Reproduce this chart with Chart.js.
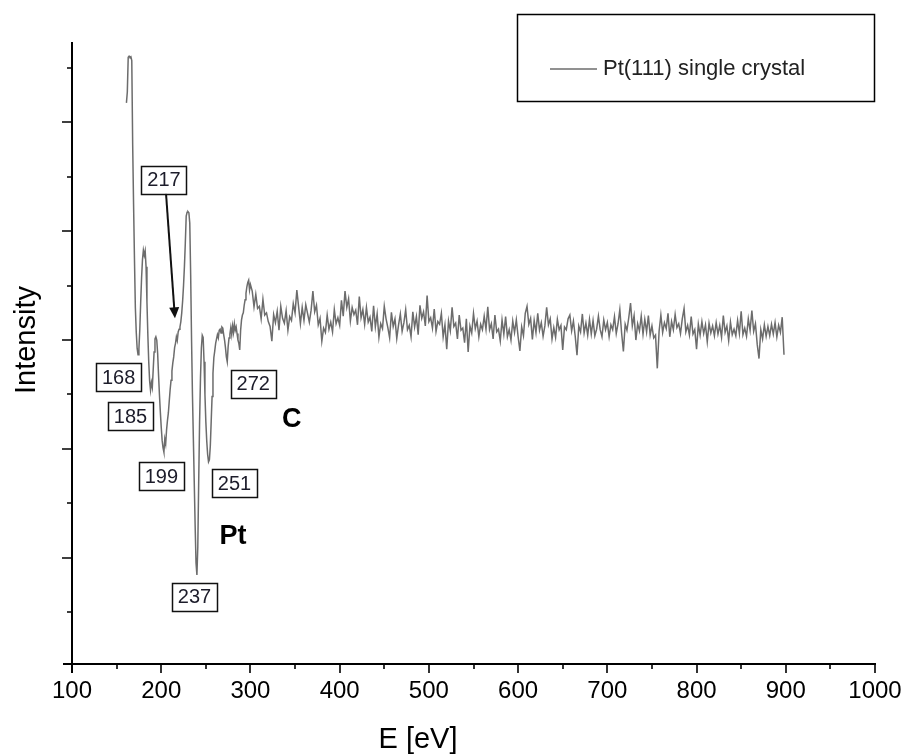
<!DOCTYPE html>
<html>
<head>
<meta charset="utf-8">
<title>Pt(111) AES</title>
<script src="https://cdn.jsdelivr.net/npm/chart.js@4.4.0/dist/chart.umd.min.js"></script>
<style>
    html, body { margin: 0; padding: 0; background: #fff; }
    #chart { display: block; }
</style>
</head>
<body>
<canvas id="chart" width="902" height="754"></canvas>
<script>
// spectrum, fine part (1 eV steps)
const energyLow = [
    161, 162, 163, 164, 165, 166, 167, 168, 169, 170,
    171, 172, 173, 174, 175, 176, 177, 178, 179, 180,
    181, 182, 183, 184, 185, 186, 187, 188, 189, 190,
    191, 192, 193, 194, 195, 196, 197, 198, 199, 200,
    201, 202, 203, 204, 205, 206, 207, 208, 209, 210,
    211, 212, 213, 214, 215, 216, 217, 218, 219, 220,
    221, 222, 223, 224, 225, 226, 227, 228, 229, 230,
    231, 232, 233, 234, 235, 236, 237, 238, 239, 240,
    241, 242, 243, 244, 245, 246, 247, 248, 249, 250,
    251, 252, 253, 254, 255, 256, 257, 258, 259, 260,
    261, 262, 263, 264, 265, 266, 267, 268, 269, 270,
    271, 272, 273, 274, 275, 276, 277, 278, 279, 280,
    281, 282, 283, 284, 285, 286, 287, 288, 289, 290,
    291, 292, 293, 294, 295, 296, 297, 298, 299, 300
];
const intensityLow = [
    103.6, 105.6, 112.0, 112.2, 112.0, 112.1, 111.4, 96.0, 85.0, 75.0,
    66.0, 61.5, 58.5, 57.3, 58.4, 62.0, 67.0, 71.5, 74.8, 76.5,
    75.6, 76.4, 73.5, 67.0, 61.0, 56.0, 52.5, 50.8, 52.2, 51.3,
    54.5, 57.8, 60.2, 60.6, 60.0, 57.5, 53.6, 50.0, 46.8, 44.0,
    41.6, 40.2, 39.4, 41.8, 40.9, 43.5, 45.2, 46.6, 48.8, 50.9,
    52.6, 54.3, 55.8, 56.9, 58.6, 59.4, 60.6, 59.9, 61.5, 62.0,
    62.4, 63.4, 65.0, 67.2, 70.0, 73.5, 77.8, 82.8, 83.5, 83.6,
    83.4, 81.5, 72.0, 60.0, 50.0, 42.0, 34.0, 26.0, 19.0, 16.8,
    22.0, 34.0, 45.0, 53.0, 58.5, 60.9, 60.5, 56.0, 50.0, 45.0,
    41.5, 39.0, 37.6, 38.0, 40.5, 45.0, 49.6, 53.9, 56.8, 58.0,
    59.4, 60.2, 61.0, 60.4, 61.8, 62.0, 61.3, 62.4, 62.2, 61.0,
    60.0, 58.6, 56.9, 56.0, 58.8, 60.4, 61.1, 62.3, 61.0, 62.6,
    61.4, 63.0, 61.8, 62.4, 61.2, 60.0, 59.4, 58.2, 61.8, 63.7,
    64.6, 65.0, 66.4, 67.4, 68.6, 69.8, 70.6, 71.0, 69.2, 70.2
];

// spectrum, noisy tail (2 eV steps)
const energyHigh = [
    302, 304, 306, 308, 310, 312, 314, 316, 318, 320,
    322, 324, 326, 328, 330, 332, 334, 336, 338, 340,
    342, 344, 346, 348, 350, 352, 354, 356, 358, 360,
    362, 364, 366, 368, 370, 372, 374, 376, 378, 380,
    382, 384, 386, 388, 390, 392, 394, 396, 398, 400,
    402, 404, 406, 408, 410, 412, 414, 416, 418, 420,
    422, 424, 426, 428, 430, 432, 434, 436, 438, 440,
    442, 444, 446, 448, 450, 452, 454, 456, 458, 460,
    462, 464, 466, 468, 470, 472, 474, 476, 478, 480,
    482, 484, 486, 488, 490, 492, 494, 496, 498, 500,
    502, 504, 506, 508, 510, 512, 514, 516, 518, 520,
    522, 524, 526, 528, 530, 532, 534, 536, 538, 540,
    542, 544, 546, 548, 550, 552, 554, 556, 558, 560,
    562, 564, 566, 568, 570, 572, 574, 576, 578, 580,
    582, 584, 586, 588, 590, 592, 594, 596, 598, 600,
    602, 604, 606, 608, 610, 612, 614, 616, 618, 620,
    622, 624, 626, 628, 630, 632, 634, 636, 638, 640,
    642, 644, 646, 648, 650, 652, 654, 656, 658, 660,
    662, 664, 666, 668, 670, 672, 674, 676, 678, 680,
    682, 684, 686, 688, 690, 692, 694, 696, 698, 700,
    702, 704, 706, 708, 710, 712, 714, 716, 718, 720,
    722, 724, 726, 728, 730, 732, 734, 736, 738, 740,
    742, 744, 746, 748, 750, 752, 754, 756, 758, 760,
    762, 764, 766, 768, 770, 772, 774, 776, 778, 780,
    782, 784, 786, 788, 790, 792, 794, 796, 798, 800,
    802, 804, 806, 808, 810, 812, 814, 816, 818, 820,
    822, 824, 826, 828, 830, 832, 834, 836, 838, 840,
    842, 844, 846, 848, 850, 852, 854, 856, 858, 860,
    862, 864, 866, 868, 870, 872, 874, 876, 878, 880,
    882, 884, 886, 888, 890, 892, 894, 896, 898
];
const intensityHigh = [
    69.0, 66.1, 68.4, 65.8, 66.2, 63.9, 67.5, 64.6, 65.0, 63.4,
    62.5, 59.8, 64.7, 63.2, 65.3, 61.8, 66.2, 64.0, 63.1, 65.4,
    61.8, 64.3, 63.6, 66.7, 65.0, 69.2, 66.1, 63.0, 66.0, 63.6,
    66.5, 64.9, 63.3, 65.5, 69.0, 65.2, 66.4, 62.8, 64.0, 59.8,
    62.2, 61.4, 64.6, 62.0, 63.3, 61.5, 65.6, 63.0, 64.1, 62.7,
    67.3, 64.4, 69.0, 66.0, 67.6, 63.5, 66.0, 64.7, 65.5, 62.8,
    68.0, 64.1, 65.6, 62.9, 66.0, 63.3, 64.2, 61.6, 66.3, 62.4,
    64.8, 60.5, 63.0, 62.1, 66.2, 63.9, 62.3, 60.4, 65.1, 62.5,
    63.9, 60.3, 62.8, 64.8, 61.6, 63.2, 65.6, 61.9, 62.7, 60.6,
    65.2, 62.4, 64.3, 61.0, 66.4, 64.0, 65.2, 62.6, 68.2, 63.4,
    64.1, 62.2, 65.7, 61.6, 63.4, 62.9, 64.9, 60.6, 62.8, 58.3,
    63.5, 61.7, 66.0, 62.5, 63.1, 60.2, 64.6, 61.8, 62.2, 59.5,
    63.9, 57.8, 62.6, 61.3, 64.9, 62.1, 63.5, 60.6, 62.9, 61.9,
    64.4, 62.0, 66.1, 61.9, 63.0, 60.2, 64.6, 61.5, 62.0, 59.8,
    63.7, 61.1, 64.3, 60.6, 61.9, 60.0, 63.5, 61.4, 63.7, 60.6,
    58.0, 62.4, 60.8, 64.9, 66.2, 62.9, 64.0, 60.1, 63.6, 61.4,
    64.9, 61.8, 63.2, 60.7, 62.6, 66.0, 62.8, 63.9, 60.2, 62.3,
    60.5, 63.8, 61.9, 62.7, 58.2, 62.4, 61.9, 63.9, 64.6, 61.7,
    63.5, 60.7, 57.2, 62.6, 61.5, 64.8, 61.3, 63.1, 60.9, 63.8,
    61.1, 63.6, 60.8, 62.0, 64.4, 61.9, 60.6, 63.7, 61.9, 63.2,
    60.6, 62.8, 61.9, 64.3, 61.2, 63.0, 65.6, 61.3, 57.9, 62.9,
    61.8, 64.1, 66.8, 62.6, 64.5, 60.0, 63.0, 61.7, 64.4, 61.1,
    63.8, 61.5, 64.5, 60.9, 62.6, 60.4, 60.9, 54.8, 61.6, 64.6,
    61.4, 63.2, 62.1, 64.9, 60.6, 63.4, 61.9, 64.7, 62.3, 63.0,
    61.2, 63.9, 65.8, 61.5, 62.7, 60.9, 64.3, 61.1, 61.9, 58.3,
    62.9, 60.9, 63.4, 61.2, 62.8, 59.7, 63.1, 61.3, 62.6, 60.8,
    63.2, 61.1, 62.7, 60.5, 64.5, 61.4, 62.6, 59.9, 63.3, 61.0,
    62.0, 60.8, 63.6, 61.2, 65.3, 61.0, 62.2, 60.7, 63.9, 61.8,
    65.4, 61.6, 63.0, 59.2, 56.6, 61.9, 60.2, 62.8, 60.7, 62.5,
    60.8, 62.9, 61.1, 63.2, 60.6, 62.7, 61.4, 64.2, 57.3
];

const xTickValues = [100, 200, 300, 400, 500, 600, 700, 800, 900, 1000];
const xMinorValues = [150, 250, 350, 450, 550, 650, 750, 850, 950];
const yMajorValues = [20, 40, 60, 80, 100];
const yMinorValues = [10, 30, 50, 70, 90, 110];

const seriesName = 'Pt(111) single crystal';
const peakTags = ['168', '185', '199', '217', '237', '251', '272'];
const elementTags = ['Pt', 'C'];

// where the tags sit (in eV / intensity units)
const tagSpots = {
    '168': [152.3, 53.2],
    '185': [165.6, 46.0],
    '199': [200.2, 35.0],
    '217': [203.1, 89.5],
    '237': [237.3, 12.8],
    '251': [282.1, 33.7],
    '272': [303.2, 52.0],
    'Pt': [280.5, 23.8],
    'C': [346.2, 45.3]
};
const arrowFrom = [205.4, 86.9];
const arrowTo = [215.4, 64.0];

const FONT = '"Liberation Sans", Arial, Helvetica, sans-serif';
const lineColor = '#6c6c6c';

var points = [];
for (var i = 0; i < energyLow.length; i++) {
    points.push({ x: energyLow[i], y: intensityLow[i] });
}
for (var j = 0; j < energyHigh.length; j++) {
    points.push({ x: energyHigh[j], y: intensityHigh[j] });
}

// axes, ticks, titles, tags and legend drawn the Origin way
const originLook = {
    id: 'originLook',
    afterDraw: function (chart) {
        var ctx = chart.ctx;
        var a = chart.chartArea;
        var xs = chart.scales.x;
        var ys = chart.scales.y;
        ctx.save();

        // axis lines
        ctx.strokeStyle = '#000';
        ctx.lineWidth = 2;
        ctx.beginPath();
        ctx.moveTo(a.left, a.top);
        ctx.lineTo(a.left, a.bottom + 9);
        ctx.moveTo(a.left - 9, a.bottom);
        ctx.lineTo(a.right + 1, a.bottom);
        ctx.stroke();

        // ticks
        ctx.lineWidth = 1.6;
        ctx.beginPath();
        xTickValues.forEach(function (v) {
            var px = Math.round(xs.getPixelForValue(v));
            ctx.moveTo(px, a.bottom);
            ctx.lineTo(px, a.bottom + 9);
        });
        xMinorValues.forEach(function (v) {
            var px = Math.round(xs.getPixelForValue(v));
            ctx.moveTo(px, a.bottom);
            ctx.lineTo(px, a.bottom + 5);
        });
        yMajorValues.forEach(function (v) {
            var py = Math.round(ys.getPixelForValue(v));
            ctx.moveTo(a.left, py);
            ctx.lineTo(a.left - 10, py);
        });
        yMinorValues.forEach(function (v) {
            var py = Math.round(ys.getPixelForValue(v));
            ctx.moveTo(a.left, py);
            ctx.lineTo(a.left - 5, py);
        });
        ctx.stroke();

        // axis titles
        ctx.fillStyle = '#000';
        ctx.textAlign = 'center';
        ctx.textBaseline = 'middle';
        ctx.font = '29px ' + FONT;
        ctx.fillText('E [eV]', 418, 740);
        ctx.save();
        ctx.translate(27, 340);
        ctx.rotate(-Math.PI / 2);
        ctx.fillText('Intensity', 0, 0);
        ctx.restore();

        // arrow to the 217 shoulder
        var ax0 = xs.getPixelForValue(arrowFrom[0]), ay0 = ys.getPixelForValue(arrowFrom[1]);
        var ax1 = xs.getPixelForValue(arrowTo[0]), ay1 = ys.getPixelForValue(arrowTo[1]);
        var ang = Math.atan2(ay1 - ay0, ax1 - ax0);
        ctx.strokeStyle = '#111';
        ctx.fillStyle = '#111';
        ctx.lineWidth = 2;
        ctx.beginPath();
        ctx.moveTo(ax0, ay0);
        ctx.lineTo(ax1 - 8 * Math.cos(ang), ay1 - 8 * Math.sin(ang));
        ctx.stroke();
        ctx.beginPath();
        ctx.moveTo(ax1, ay1);
        ctx.lineTo(ax1 - 11 * Math.cos(ang) + 5 * Math.sin(ang), ay1 - 11 * Math.sin(ang) - 5 * Math.cos(ang));
        ctx.lineTo(ax1 - 11 * Math.cos(ang) - 5 * Math.sin(ang), ay1 - 11 * Math.sin(ang) + 5 * Math.cos(ang));
        ctx.closePath();
        ctx.fill();

        // boxed peak energies
        ctx.font = '20px ' + FONT;
        peakTags.forEach(function (t) {
            var cx = xs.getPixelForValue(tagSpots[t][0]);
            var cy = ys.getPixelForValue(tagSpots[t][1]);
            var w = ctx.measureText(t).width + 12;
            var h = 28;
            ctx.fillStyle = '#fff';
            ctx.fillRect(cx - w / 2, cy - h / 2, w, h);
            ctx.strokeStyle = '#111';
            ctx.lineWidth = 1.5;
            ctx.strokeRect(Math.round(cx - w / 2) + 0.5, Math.round(cy - h / 2) + 0.5, Math.round(w), h);
            ctx.fillStyle = '#1c1c2a';
            ctx.fillText(t, cx, cy + 1);
        });

        // element names
        ctx.font = 'bold 27px ' + FONT;
        ctx.fillStyle = '#000';
        elementTags.forEach(function (t) {
            ctx.fillText(t, xs.getPixelForValue(tagSpots[t][0]), ys.getPixelForValue(tagSpots[t][1]));
        });

        // legend box
        var lx = a.right - 358, ly = 14;
        ctx.strokeStyle = '#000';
        ctx.lineWidth = 1.5;
        ctx.strokeRect(lx + 0.5, ly + 0.5, 357, 87);
        ctx.strokeStyle = lineColor;
        ctx.lineWidth = 1.5;
        ctx.beginPath();
        ctx.moveTo(lx + 33, ly + 55);
        ctx.lineTo(lx + 80, ly + 55);
        ctx.stroke();
        ctx.fillStyle = '#222';
        ctx.textAlign = 'left';
        ctx.font = '22px ' + FONT;
        ctx.fillText(chart.data.datasets[0].label, lx + 86, ly + 55);

        ctx.restore();
    }
};

var ctx = document.getElementById('chart').getContext('2d');
var chart = new Chart(ctx, {
    type: 'line',
    data: {
        datasets: [{
            label: seriesName,
            data: points,
            borderColor: lineColor,
            borderWidth: 1.5,
            pointRadius: 0,
            tension: 0,
            fill: false
        }]
    },
    options: {
        responsive: false,
        animation: false,
        devicePixelRatio: 1,
        layout: {
            padding: { top: 42, right: 27, left: 0, bottom: 0 }
        },
        plugins: {
            legend: { display: false },
            tooltip: { enabled: false }
        },
        scales: {
            x: {
                type: 'linear',
                min: 100,
                max: 1000,
                grid: { display: false, drawTicks: false },
                border: { display: false },
                ticks: {
                    stepSize: 100,
                    padding: 13,
                    autoSkip: false,
                    maxRotation: 0,
                    color: '#000',
                    font: { family: FONT, size: 24 },
                    callback: function (v) { return String(v); }
                },
                afterFit: function (scale) {
                    scale.height = 90;
                    scale.paddingLeft = 0;
                    scale.paddingRight = 0;
                }
            },
            y: {
                type: 'linear',
                min: 0.44,
                max: 114.8,
                grid: { display: false, drawTicks: false },
                border: { display: false },
                ticks: { display: false },
                afterFit: function (scale) {
                    scale.width = 72;
                }
            }
        }
    },
    plugins: [originLook]
});
</script>
</body>
</html>
